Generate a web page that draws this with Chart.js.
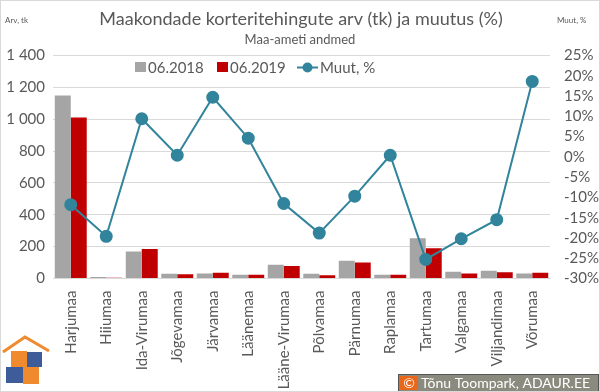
<!DOCTYPE html>
<html>
<head>
<meta charset="utf-8">
<script src="https://cdn.jsdelivr.net/npm/chart.js@4"></script>
<style>
  html, body { margin: 0; padding: 0; background: #fff; }
  #wrap { width: 600px; height: 392px; position: relative; }
</style>
</head>
<body>
<div id="wrap"><canvas id="myChart" width="600" height="392"></canvas></div>
<script>
// Maakonnad ja andmed (loetud jooniselt)
const counties = ['Harjumaa', 'Hiiumaa', 'Ida-Virumaa', 'Jõgevamaa', 'Järvamaa', 'Läänemaa', 'Lääne-Virumaa',
    'Põlvamaa', 'Pärnumaa', 'Raplamaa', 'Tartumaa', 'Valgamaa', 'Viljandimaa', 'Võrumaa'];
const deals2018 = [1149, 10, 170, 30, 31, 23, 86, 30, 112, 23, 253, 42, 49, 32];
const deals2019 = [1010, 4, 185, 26, 36, 23, 78, 21, 101, 23, 190, 32, 40, 36];
const changePct = [-11.8, -19.6, 9.4, 0.4, 14.7, 4.6, -11.5, -18.8, -9.7, 0.4, -25.3, -20.2, -15.5, 18.6];
const leftTicks = [0, 200, 400, 600, 800, 1000, 1200, 1400];
const rightTicks = [-30, -25, -20, -15, -10, -5, 0, 5, 10, 15, 20, 25];

const textColor = '#595959';
const fontFam = 'Lato, "Open Sans", sans-serif';

// pealkirjad, legend, logo ja autoriõiguse kast
const decorations = {
    id: 'decorations',
    afterDraw(chart) {
        const c = chart.ctx;
        c.save();
        c.fillStyle = textColor;
        c.textBaseline = 'middle';
        c.textAlign = 'center';
        c.font = '18px ' + fontFam;
        c.fillText('Maakondade korteritehingute arv (tk) ja muutus (%)', 301, 19);
        c.font = '13px ' + fontFam;
        c.fillText('Maa-ameti andmed', 300, 40);
        c.font = '8px ' + fontFam;
        c.textAlign = 'left';
        c.fillText('Arv, tk', 5, 20);
        c.fillText('Muut, %', 557, 20);

        // legend
        c.font = '15px ' + fontFam;
        c.fillStyle = '#a5a5a5';
        c.fillRect(135, 62, 11, 10);
        c.fillStyle = textColor;
        c.fillText('06.2018', 148, 68);
        c.fillStyle = '#c00000';
        c.fillRect(217, 62, 11, 10);
        c.fillStyle = textColor;
        c.fillText('06.2019', 230, 68);
        c.strokeStyle = '#31849b';
        c.lineWidth = 2;
        c.beginPath(); c.moveTo(297, 67.5); c.lineTo(318, 67.5); c.stroke();
        c.fillStyle = '#31849b';
        c.beginPath(); c.arc(307.5, 67.5, 5, 0, Math.PI * 2); c.fill();
        c.fillStyle = textColor;
        c.fillText('Muut, %', 320, 68);

        // logo
        c.strokeStyle = '#ef8a2e';
        c.lineWidth = 3;
        c.beginPath(); c.moveTo(3, 352); c.lineTo(25, 337); c.lineTo(49, 351); c.stroke();
        c.fillStyle = '#ef8a2e';
        c.fillRect(11, 351, 16, 16);
        c.fillRect(23, 367, 16, 17);
        c.fillStyle = '#3e5b9a';
        c.fillRect(27, 352, 15, 15);
        c.fillRect(6, 367, 17, 16);

        // autoriõigus
        c.fillStyle = '#8a8a7e';
        c.fillRect(398, 374, 201, 17);
        c.strokeStyle = '#555';
        c.lineWidth = 1;
        c.strokeRect(398.5, 374.5, 200, 17);
        c.fillStyle = '#e8671a';
        c.fillRect(400, 376, 18, 14);
        c.fillStyle = '#fff';
        c.font = '14px ' + fontFam;
        c.textAlign = 'center';
        c.fillText('©', 409, 383.5);
        c.textAlign = 'left';
        c.fillText('Tõnu Toompark, ADAUR.EE', 421, 383.5);

        // raam
        c.strokeStyle = '#d9d9d9';
        c.strokeRect(0.5, 0.5, 599, 391);
        c.restore();
    }
};

const ctx = document.getElementById('myChart');

new Chart(ctx, {
    type: 'bar',
    data: {
        labels: counties,
        datasets: [{
            type: 'line',
            label: 'Muut, %',
            data: changePct,
            yAxisID: 'y2',
            borderColor: '#31849b',
            backgroundColor: '#31849b',
            borderWidth: 2,
            pointRadius: 5.5,
            pointHoverRadius: 5.5,
            tension: 0,
            order: 0
        }, {
            label: '06.2018',
            data: deals2018,
            backgroundColor: '#a5a5a5',
            categoryPercentage: 0.9,
            barPercentage: 1.0,
            order: 1
        }, {
            label: '06.2019',
            data: deals2019,
            backgroundColor: '#c00000',
            categoryPercentage: 0.9,
            barPercentage: 1.0,
            order: 1
        }]
    },
    options: {
        responsive: false,
        animation: false,
        layout: { padding: { top: 55.5, left: 0, right: 0, bottom: 0 } },
        scales: {
            x: {
                grid: { display: false },
                border: { color: '#d9d9d9' },
                ticks: {
                    color: textColor,
                    font: { family: fontFam, size: 15 },
                    minRotation: 90,
                    maxRotation: 90,
                    autoSkip: false,
                    padding: 4
                },
                afterFit: (s) => { s.height = 113.5; }
            },
            y: {
                position: 'left',
                min: 0,
                max: 1400,
                afterBuildTicks: (s) => { s.ticks = leftTicks.map(v => ({ value: v })); },
                grid: { color: '#d9d9d9', drawTicks: false },
                border: { display: false },
                ticks: {
                    color: textColor,
                    font: { family: fontFam, size: 15 },
                    padding: 8,
                    autoSkip: false,
                    callback: (v) => String(v).replace(/\B(?=(\d{3})+(?!\d))/g, ' ')
                },
                afterFit: (s) => { s.width = 53; }
            },
            y2: {
                position: 'right',
                min: -30,
                max: 25,
                afterBuildTicks: (s) => { s.ticks = rightTicks.map(v => ({ value: v })); },
                grid: { display: false, drawTicks: false },
                border: { display: false },
                ticks: {
                    color: textColor,
                    font: { family: fontFam, size: 15 },
                    padding: 14,
                    autoSkip: false,
                    callback: (v) => v + '%'
                },
                afterFit: (s) => { s.width = 50; }
            }
        },
        plugins: {
            legend: { display: false },
            tooltip: { enabled: false }
        }
    },
    plugins: [decorations]
});
</script>
</body>
</html>
